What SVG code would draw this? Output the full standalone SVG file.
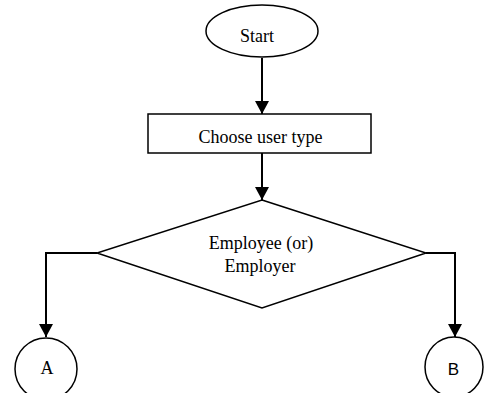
<svg xmlns="http://www.w3.org/2000/svg" width="486" height="393" viewBox="0 0 486 393">
  <style>
    .shape { fill: #ffffff; stroke: #000000; stroke-width: 1.5; }
    .edge { fill: none; stroke: #000000; stroke-width: 2; }
    .serif { font-family: "Liberation Serif", "Times New Roman", serif; font-size: 18px; fill: #000000; text-anchor: middle; }
    .sans { font-family: "Liberation Sans", Arial, sans-serif; font-size: 17px; fill: #000000; text-anchor: middle; }
  </style>
  <defs>
    <marker id="arrow" markerUnits="userSpaceOnUse" markerWidth="14" markerHeight="14" refX="13" refY="7" orient="auto">
      <path d="M0,0 L13,7 L0,14 Z" fill="#000000"/>
    </marker>
  </defs>
  <rect width="486" height="393" fill="#ffffff"/>

  <g id="connectors">
    <line class="edge" x1="262" y1="58" x2="262" y2="114" marker-end="url(#arrow)"/>
    <line class="edge" x1="262" y1="153" x2="262" y2="200" marker-end="url(#arrow)"/>
    <polyline class="edge" points="97,253 46,253 46,337" marker-end="url(#arrow)"/>
    <polyline class="edge" points="426,253 455,253 455,337" marker-end="url(#arrow)"/>
  </g>

  <g id="start">
    <ellipse class="shape" cx="262" cy="31" rx="56" ry="26"/>
    <text class="serif" x="257" y="42">Start</text>
  </g>

  <g id="choose-user-type">
    <rect class="shape" x="148" y="114" width="223" height="39"/>
    <text class="serif" x="260.5" y="143">Choose user type</text>
  </g>

  <g id="user-type-decision">
    <polygon class="shape" points="262,200 426,253 262,308 97,253"/>
    <text class="serif" x="261" y="249">Employee (or)</text>
    <text class="serif" x="260" y="272">Employer</text>
  </g>

  <g id="connector-a">
    <ellipse class="shape" cx="46" cy="369" rx="31" ry="31"/>
    <text class="serif" x="47" y="374">A</text>
  </g>

  <g id="connector-b">
    <ellipse class="shape" cx="454" cy="367" rx="29" ry="30"/>
    <text class="sans" x="453.5" y="375">B</text>
  </g>
</svg>
